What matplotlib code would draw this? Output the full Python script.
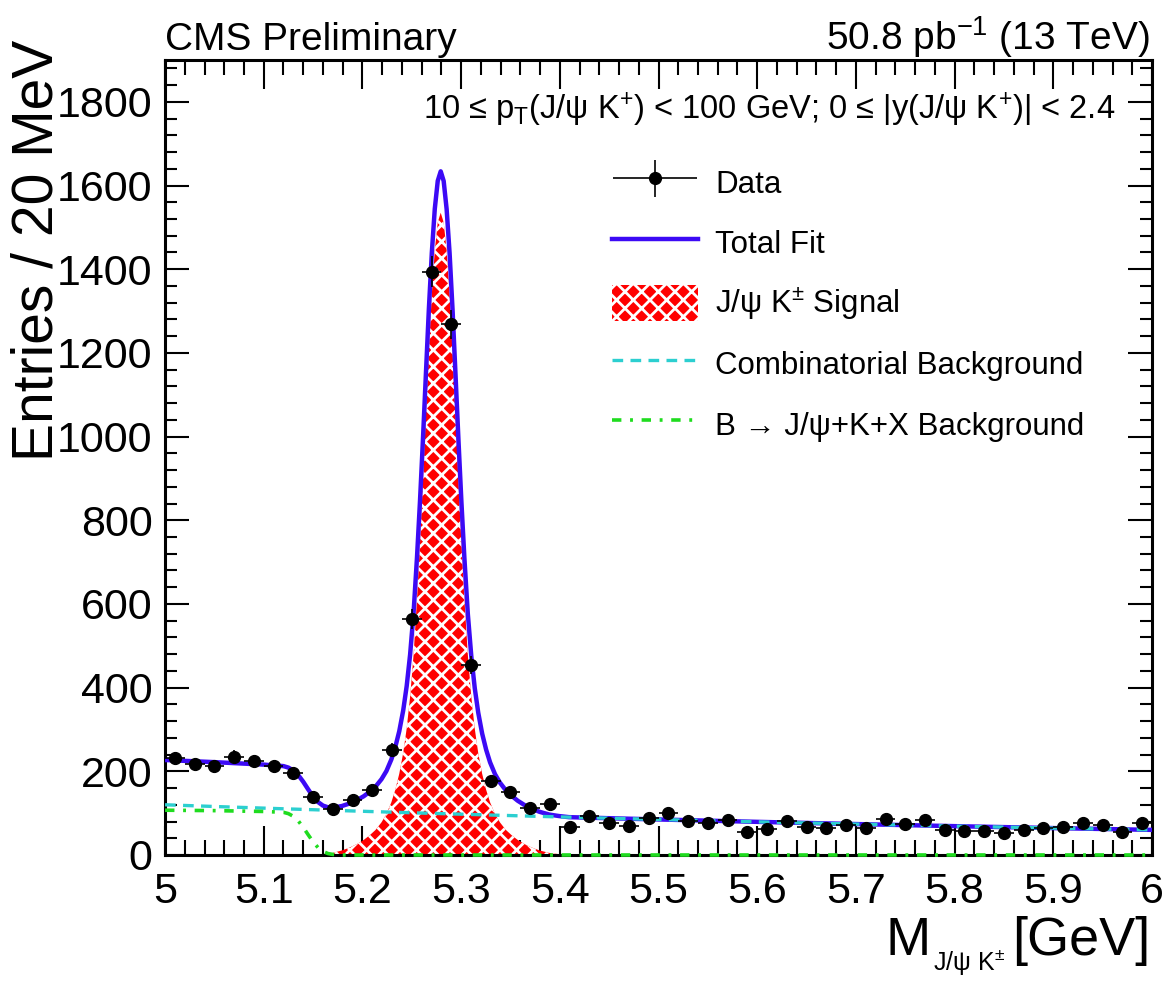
import matplotlib
matplotlib.use('Agg')
import matplotlib.pyplot as plt
import numpy as np
from matplotlib.lines import Line2D
from matplotlib.patches import Patch
from matplotlib.ticker import MultipleLocator
from matplotlib.legend_handler import HandlerErrorbar

plt.rcParams['font.family'] = ['Liberation Sans', 'DejaVu Sans']
plt.rcParams['mathtext.fontset'] = 'custom'
plt.rcParams['mathtext.rm'] = 'Liberation Sans'
plt.rcParams['mathtext.it'] = 'Liberation Sans:italic'
plt.rcParams['mathtext.bf'] = 'Liberation Sans:bold'
plt.rcParams['hatch.linewidth'] = 2.0

# ---------------- data ----------------
bin_centers = [5.01, 5.03, 5.05, 5.07, 5.09, 5.11, 5.13, 5.15, 5.17, 5.19,
               5.21, 5.23, 5.25, 5.27, 5.29, 5.31, 5.33, 5.35, 5.37, 5.39,
               5.41, 5.43, 5.45, 5.47, 5.49, 5.51, 5.53, 5.55, 5.57, 5.59,
               5.61, 5.63, 5.65, 5.67, 5.69, 5.71, 5.73, 5.75, 5.77, 5.79,
               5.81, 5.83, 5.85, 5.87, 5.89, 5.91, 5.93, 5.95, 5.97, 5.99]
entries = [231, 217, 213, 235, 225, 213, 195, 138, 110, 132,
           156, 251, 565, 1394, 1268, 455, 177, 151, 113, 121,
           68, 93, 76, 70, 88, 100, 82, 77, 84, 56,
           62, 81, 68, 64, 72, 65, 86, 73, 84, 60,
           57, 58, 53, 60, 64, 66, 77, 72, 54, 76]

# fit components sampled along the mass axis
fit_mass = [5.000, 5.050, 5.100, 5.120, 5.125, 5.130, 5.135, 5.140, 5.145, 5.150,
            5.155, 5.160, 5.165, 5.170, 5.1793, 5.1873, 5.1943, 5.2013, 5.2073, 5.2133,
            5.2193, 5.2243, 5.2293, 5.2333, 5.2373, 5.2413, 5.2448, 5.2483, 5.2518, 5.2553,
            5.2583, 5.2613, 5.2643, 5.2673, 5.2703, 5.2733, 5.2763, 5.2793, 5.2823, 5.2853,
            5.2883, 5.2913, 5.2943, 5.2973, 5.3003, 5.3033, 5.3068, 5.3103, 5.3138, 5.3173,
            5.3213, 5.3253, 5.3293, 5.3343, 5.3393, 5.3453, 5.3513, 5.3573, 5.3643, 5.3713,
            5.3793, 5.3893, 5.3993, 5.4093, 5.450, 5.500, 5.600, 5.700, 5.800, 5.900, 6.000]
fit_signal = [0, 0, 0, 0, 0, 0, 0, 0, 0, 0,
              1, 2, 3.5, 5, 11, 18, 26, 36, 47, 60,
              78, 98, 126, 156, 194, 244, 302, 378, 478, 612,
              745, 893, 1050, 1205, 1340, 1445, 1512, 1535, 1512, 1445,
              1340, 1205, 1050, 893, 745, 612, 478, 378, 302, 244,
              194, 156, 126, 98, 78, 60, 47, 36, 26, 18,
              11, 5, 2, 0, 0, 0, 0, 0, 0, 0, 0]
fit_comb = [120.0, 115.9, 112.0, 110.4, 110.0, 109.7, 109.3, 108.9, 108.5, 108.2,
            107.8, 107.4, 107.0, 106.7, 106.0, 105.4, 104.9, 104.4, 103.9, 103.5,
            103.1, 102.7, 102.4, 102.1, 101.8, 101.5, 101.3, 101.0, 100.8, 100.5,
            100.3, 100.1, 99.9, 99.7, 99.5, 99.3, 99.1, 98.9, 98.7, 98.5,
            98.3, 98.1, 97.9, 97.7, 97.5, 97.3, 97.1, 96.8, 96.6, 96.4,
            96.1, 95.9, 95.5, 95.2, 94.9, 94.5, 94.1, 93.7, 93.2, 92.8,
            92.3, 91.6, 91.0, 90.4, 87.9, 84.9, 79.2, 73.9, 68.9, 64.3, 60.0]
fit_bkx = [107, 106, 104, 102, 98.8, 92.4, 81.4, 66.1, 48.4, 31.4,
           17.7, 8.6, 3.5, 1.3, 0.1, 0, 0, 0, 0, 0,
           0, 0, 0, 0, 0, 0, 0, 0, 0, 0,
           0, 0, 0, 0, 0, 0, 0, 0, 0, 0,
           0, 0, 0, 0, 0, 0, 0, 0, 0, 0,
           0, 0, 0, 0, 0, 0, 0, 0, 0, 0,
           0, 0, 0, 0, 0, 0, 0, 0, 0, 0, 0]

x_ticks = [5.0, 5.1, 5.2, 5.3, 5.4, 5.5, 5.6, 5.7, 5.8, 5.9, 6.0]
x_tick_labels = ['5', '5.1', '5.2', '5.3', '5.4', '5.5', '5.6', '5.7', '5.8', '5.9', '6']
y_ticks = [0, 200, 400, 600, 800, 1000, 1200, 1400, 1600, 1800]

# ---------------- styles ----------------
BLUE = '#3c0af5'
CYAN = '#2ccfd0'
GREEN = '#1fdc1f'

fig = plt.figure(figsize=(11.64, 9.98), dpi=100)
ax = fig.add_axes([0.1418, 0.1433, 0.8479, 0.7966])

fm = np.array(fit_mass)
sig = np.array(fit_signal)
comb = np.array(fit_comb)
bkx = np.array(fit_bkx)
total = sig + comb + bkx

ax.fill_between(fm, 0, sig, facecolor='red', edgecolor='white', hatch='xx',
                linewidth=0, zorder=2)
ax.plot(fm, total, color=BLUE, lw=3.2, zorder=3)
ax.plot(fm, comb, color=CYAN, lw=2.4, dashes=(3.2, 2.2), zorder=4)
ax.plot(fm, bkx, color=GREEN, lw=2.6, dashes=(2.6, 2.4, 0.8, 2.4), zorder=6, clip_on=False)

y = np.array(entries)
eb = ax.errorbar(bin_centers, y, yerr=np.sqrt(y), xerr=0.01, fmt='o', color='black',
                 ms=8.5, elinewidth=1.2, capsize=0, zorder=5)

ax.set_xlim(5.0, 6.0)
ax.set_ylim(0, 1900)
ax.set_xticks(x_ticks)
ax.set_xticklabels(x_tick_labels)
ax.set_yticks(y_ticks)
ax.xaxis.set_minor_locator(MultipleLocator(0.02))
ax.yaxis.set_minor_locator(MultipleLocator(40))
ax.tick_params(which='both', direction='in', top=True, right=True, width=1.5,
               labelsize=31, colors='black')
ax.tick_params(axis='x', which='major', length=21, pad=12)
ax.tick_params(axis='x', which='minor', length=10.5)
ax.tick_params(axis='y', which='major', length=17, pad=9)
ax.tick_params(axis='y', which='minor', length=8.5)
for s in ax.spines.values():
    s.set_linewidth(2.2)

# texts
fig.text(165/1164, 1 - 50/998, 'CMS Preliminary', fontsize=28, ha='left', va='baseline')
fig.text(1150/1164, 1 - 50/998, r'50.8 pb$^{\mathrm{-1}}$ (13 TeV)', fontsize=28,
         ha='right', va='baseline')
fig.text(38/1164, 1 - 40/998, 'Entries / 20 MeV', fontsize=41, rotation=90,
         ha='center', va='top')
# x-axis title: M with small subscript, then [GeV]
fig.text(1150/1164, 1 - 955/998, '[GeV]', fontsize=39, ha='right', va='baseline')
fig.text(933/1164, 1 - 970/998, 'J/ψ K$^{\\pm}$', fontsize=18, ha='left', va='baseline')
fig.text(931/1164, 1 - 955/998, 'M', fontsize=39, ha='right', va='baseline')
ax.text((1115-165)/987, (855-112)/793,
        r'10 ≤ p$_{\mathrm{T}}$(J/ψ K$^{+}$) < 100 GeV; 0 ≤ |y(J/ψ K$^{+}$)| < 2.4',
        transform=ax.transAxes, fontsize=23.5, ha='right', va='center')

# legend
handles = [eb,
           Line2D([], [], color=BLUE, lw=3.2),
           Patch(facecolor='red', edgecolor='white', hatch='xx', linewidth=0),
           Line2D([], [], color=CYAN, lw=2.4, dashes=(3.2, 2.2)),
           Line2D([], [], color=GREEN, lw=2.6, dashes=(2.6, 2.4, 0.8, 2.4))]
labels = ['Data', 'Total Fit', 'J/ψ K$^{\\pm}$ Signal', 'Combinatorial Background',
          'B → J/ψ+K+X Background']
ax.legend(handles, labels, loc='upper left', bbox_to_anchor=((612-165)/987, (855-166)/793),
          frameon=False, fontsize=22.5, handlelength=2.75, handleheight=1.4,
          labelspacing=0.77, handletextpad=0.55, borderaxespad=0, borderpad=0,
          numpoints=1,
          handler_map={type(eb): HandlerErrorbar(xerr_size=1.35, yerr_size=0.6)})

fig.savefig('out.png', dpi=100)
